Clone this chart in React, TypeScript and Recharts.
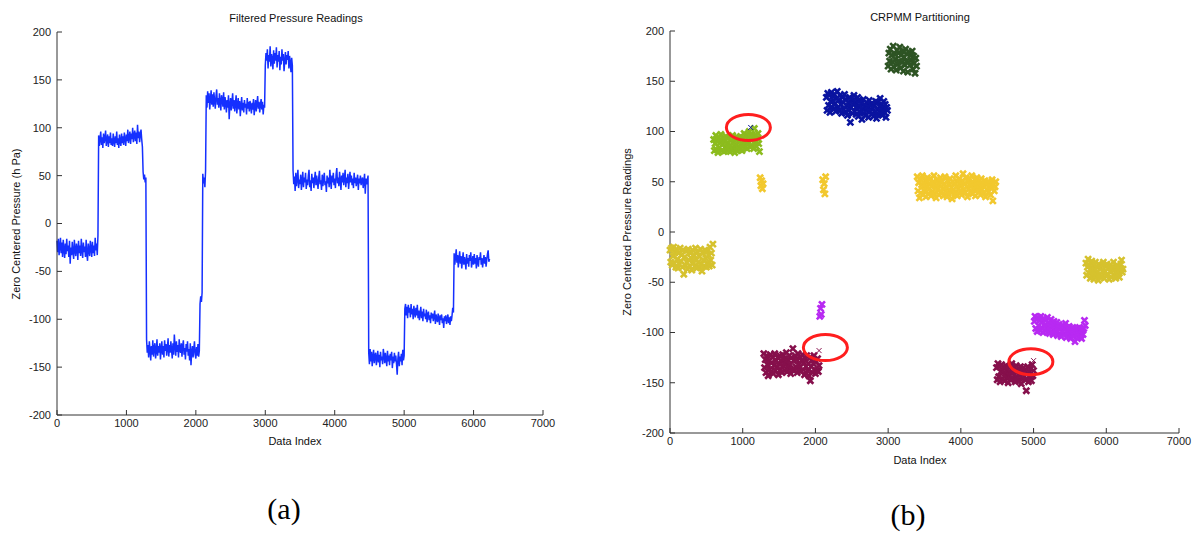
import React from 'react';
import { LineChart, Line, ScatterChart, Scatter, XAxis, YAxis } from 'recharts';

// ---- Data ----
const indexStep = 10;
const segmentStarts = [0, 600, 1240, 1290, 2060, 2100, 2150, 3000, 3400, 4490, 5010, 5720];
const segmentClusters = ['olive', 'lime', 'yellow', 'crimson', 'purple', 'yellow', 'navy', 'dkgreen', 'yellow', 'crimson', 'purple', 'olive'];

const seg0 = [-18,-30,-16,-33,-24,-15,-31,-20,-35,-17,-27,-36,-21,-32,-16,-29,-23,-35,-18,-42,-25,-33,-19,-30,-37,-17,-28,-34,-21,-26,-38,-18,-31,-23,-34,-16,-28,-36,-20,-30,-24,-35,-17,-32,-39,-21,-28,-34,-18,-26,-35,-19,-31,-23,-34,-15,-28,-21,-33,-12];
const seg1 = [92,81,88,96,82,90,79,94,84,89,97,81,87,93,80,91,84,95,82,89,81,94,86,80,91,84,96,82,89,79,93,86,81,94,84,91,82,95,88,81,93,86,98,84,90,96,83,94,88,100,85,92,97,86,95,83,103,89,96,85,93,98,88,80];
const seg2 = [54,46,51,43,48];
const seg3 = [-121,-135,-127,-140,-123,-132,-143,-128,-137,-122,-139,-130,-125,-141,-133,-121,-138,-128,-135,-125,-142,-131,-123,-137,-128,-140,-122,-133,-126,-138,-130,-120,-139,-127,-135,-123,-132,-141,-125,-137,-116,-128,-138,-123,-134,-127,-140,-121,-132,-135,-125,-139,-128,-122,-137,-130,-142,-126,-134,-123,-138,-131,-143,-125,-148,-134,-128,-140,-131,-123,-137,-141,-129,-138,-126,-139,-133];
const seg4 = [-84,-76,-82,-72];
const seg5 = [52,42,48,38,55];
const seg6 = [134,121,138,126,136,119,130,139,124,135,122,137,128,120,133,140,124,131,121,136,127,118,134,129,122,137,119,132,126,116,129,121,134,109,124,131,118,127,136,120,129,117,125,134,115,124,131,119,128,112,123,132,118,126,116,129,121,125,114,131,120,127,117,128,123,115,126,119,130,113,122,129,117,125,133,120,127,116,124,130,119,127,114,124,121];
const seg7 = [165,178,170,182,162,176,169,185,164,177,172,161,181,167,178,170,184,163,176,169,180,160,174,166,182,170,177,159,169,179,166,176,171,180,162,175,168,158,173,165];
const seg8 = [55,41,49,34,53,39,47,56,37,46,41,51,35,45,54,38,48,43,53,36,46,40,50,56,38,45,34,52,42,48,37,47,54,40,50,43,36,48,55,41,45,35,51,39,47,53,40,44,33,50,42,48,38,56,45,36,50,43,53,40,47,37,51,58,42,48,39,54,45,35,50,43,53,40,47,56,38,48,42,52,36,45,54,43,50,40,47,37,53,42,48,39,45,51,35,47,42,50,40,45,48,37,44,52,31,47,41,45,50];
const seg9 = [-135,-147,-131,-144,-134,-149,-139,-132,-146,-138,-135,-148,-141,-133,-145,-137,-150,-134,-143,-139,-147,-131,-138,-146,-135,-142,-149,-133,-144,-138,-148,-136,-143,-134,-151,-139,-146,-135,-144,-138,-147,-158,-141,-134,-149,-139,-144,-136,-148,-132,-143,-138];
const seg10 = [-89,-84,-96,-87,-99,-85,-93,-88,-98,-84,-95,-89,-100,-86,-93,-98,-88,-96,-85,-99,-91,-101,-94,-87,-99,-92,-102,-89,-97,-94,-100,-90,-103,-95,-92,-101,-96,-104,-93,-99,-94,-102,-97,-91,-105,-95,-100,-103,-94,-99,-106,-96,-101,-95,-104,-99,-109,-97,-102,-96,-105,-100,-95,-104,-98,-106,-97,-102,-96,-88,-93];
const seg11 = [-31,-43,-35,-27,-41,-33,-46,-37,-29,-42,-34,-47,-38,-30,-43,-35,-40,-48,-32,-42,-36,-45,-33,-39,-30,-46,-40,-34,-43,-32,-42,-36,-47,-33,-40,-45,-35,-38,-30,-43,-36,-46,-39,-33,-42,-35,-45,-38,-32,-28,-40,-37];
const segments = [seg0, seg1, seg2, seg3, seg4, seg5, seg6, seg7, seg8, seg9, seg10, seg11];

// highlighted (mis-assigned) points in panel (b)
const outlierX = [1110, 2050, 5000];
const outlierY = [104, -118, -128];
const outlierClusters = ['navy', 'crimson', 'crimson'];
// red circles drawn around them
const circleX = [1078, 2137, 4963];
const circleY = [104, -115, -129];

const xTicks = [0, 1000, 2000, 3000, 4000, 5000, 6000, 7000];
const yTicks = [-200, -150, -100, -50, 0, 50, 100, 150, 200];

const clusterOrder = ['olive', 'lime', 'yellow', 'navy', 'dkgreen', 'crimson', 'purple'];
const clusterColors: Record<string, string> = {
  olive: '#D6C22E',
  lime: '#8CBC1E',
  yellow: '#F2C82E',
  navy: '#0A14A0',
  dkgreen: '#2E5424',
  crimson: '#86104C',
  purple: '#B82AF2',
};

// ---- Derived tables ----
const signal = segments.flatMap((seg, s) =>
  seg.map((v, i) => ({ x: segmentStarts[s] + i * indexStep, y: v, c: segmentClusters[s] }))
);
const clusterData = clusterOrder.map((k) => ({ key: k, data: signal.filter((p) => p.c === k) }));
const outliers = outlierX.map((x, i) => ({ x, y: outlierY[i], c: outlierClusters[i] }));
const circles = circleX.map((x, i) => ({ x, y: circleY[i] }));

const FONT = '"Liberation Sans", Arial, Helvetica, sans-serif';
const tickStyle = { fontSize: 11, fill: '#222', fontFamily: FONT };
const axisColor = '#333';

const makeX = (color: string, r: number, w: number) => (props: any) => {
  const { cx, cy } = props;
  if (cx == null || cy == null) return <g />;
  return (
    <path
      d={`M${cx - r},${cy - r}L${cx + r},${cy + r}M${cx - r},${cy + r}L${cx + r},${cy - r}`}
      stroke={color}
      strokeWidth={w}
      fill="none"
    />
  );
};

const CircleShape = (props: any) => {
  const { cx, cy } = props;
  if (cx == null || cy == null) return <g />;
  return <ellipse cx={cx} cy={cy} rx={22} ry={13} stroke="#FF1E1E" strokeWidth={3} fill="none" />;
};

const txt = (content: string, left: number, top: number, extra: React.CSSProperties = {}) => (
  <div
    style={{
      position: 'absolute',
      left,
      top,
      transform: 'translate(-50%, -50%)',
      whiteSpace: 'nowrap',
      fontFamily: FONT,
      fontSize: 11,
      lineHeight: 1,
      color: '#111',
      ...extra,
    }}
  >
    {content}
  </div>
);

const axisCommon = {
  stroke: axisColor,
  tick: tickStyle,
  tickSize: -5,
  tickLine: { stroke: axisColor },
  axisLine: { stroke: axisColor },
};

export default function App() {
  return (
    <div style={{ position: 'absolute', left: 0, top: 0, width: 1195, height: 533, background: '#fff', overflow: 'hidden' }}>
      {/* Panel (a) */}
      <div style={{ position: 'absolute', left: 0, top: 0 }}>
        <LineChart width={560} height={460} data={signal} margin={{ top: 32, right: 17, bottom: 0, left: 0 }}>
          <XAxis
            dataKey="x"
            type="number"
            domain={[0, 7000]}
            ticks={xTicks}
            height={45}
            tickMargin={9}
            interval={0}
            {...axisCommon}
          />
          <YAxis
            type="number"
            domain={[-200, 200]}
            ticks={yTicks}
            width={57}
            tickMargin={11}
            interval={0}
            {...axisCommon}
          />
          <Line type="linear" dataKey="y" stroke="#1530FF" strokeWidth={1.5} dot={false} isAnimationActive={false} />
        </LineChart>
      </div>
      {/* Panel (b) */}
      <div style={{ position: 'absolute', left: 613, top: 0 }}>
        <ScatterChart width={582} height={480} margin={{ top: 31, right: 16, bottom: 0, left: 0 }}>
          <XAxis
            dataKey="x"
            type="number"
            domain={[0, 7000]}
            ticks={xTicks}
            height={47}
            tickMargin={9}
            interval={0}
            {...axisCommon}
          />
          <YAxis
            dataKey="y"
            type="number"
            domain={[-200, 200]}
            ticks={yTicks}
            width={57}
            tickMargin={11}
            interval={0}
            {...axisCommon}
          />
          {clusterData.map((cd) => (
            <Scatter key={cd.key} data={cd.data} shape={makeX(clusterColors[cd.key], 3, 2.6)} isAnimationActive={false} />
          ))}
          {outliers.map((o, i) => (
            <Scatter key={'o' + i} data={[o]} shape={makeX(clusterColors[o.c], 2.5, 1)} isAnimationActive={false} />
          ))}
          <Scatter data={circles} shape={CircleShape} isAnimationActive={false} />
        </ScatterChart>
      </div>

      {/* Titles and axis labels */}
      {txt('Filtered Pressure Readings', 296, 18)}
      {txt('Data Index', 295, 441)}
      {txt('Zero Centered Pressure (h Pa)', 16, 224, { transform: 'translate(-50%, -50%) rotate(-90deg)' })}
      {txt('CRPMM Partitioning', 920, 17)}
      {txt('Data Index', 920, 460)}
      {txt('Zero Centered Pressure Readings', 627, 232, { transform: 'translate(-50%, -50%) rotate(-90deg)' })}

      {/* Captions */}
      {txt('(a)', 284, 509, { fontFamily: '"Liberation Serif", "Times New Roman", serif', fontSize: 30, color: '#000' })}
      {txt('(b)', 908, 515, { fontFamily: '"Liberation Serif", "Times New Roman", serif', fontSize: 30, color: '#000' })}
    </div>
  );
}
